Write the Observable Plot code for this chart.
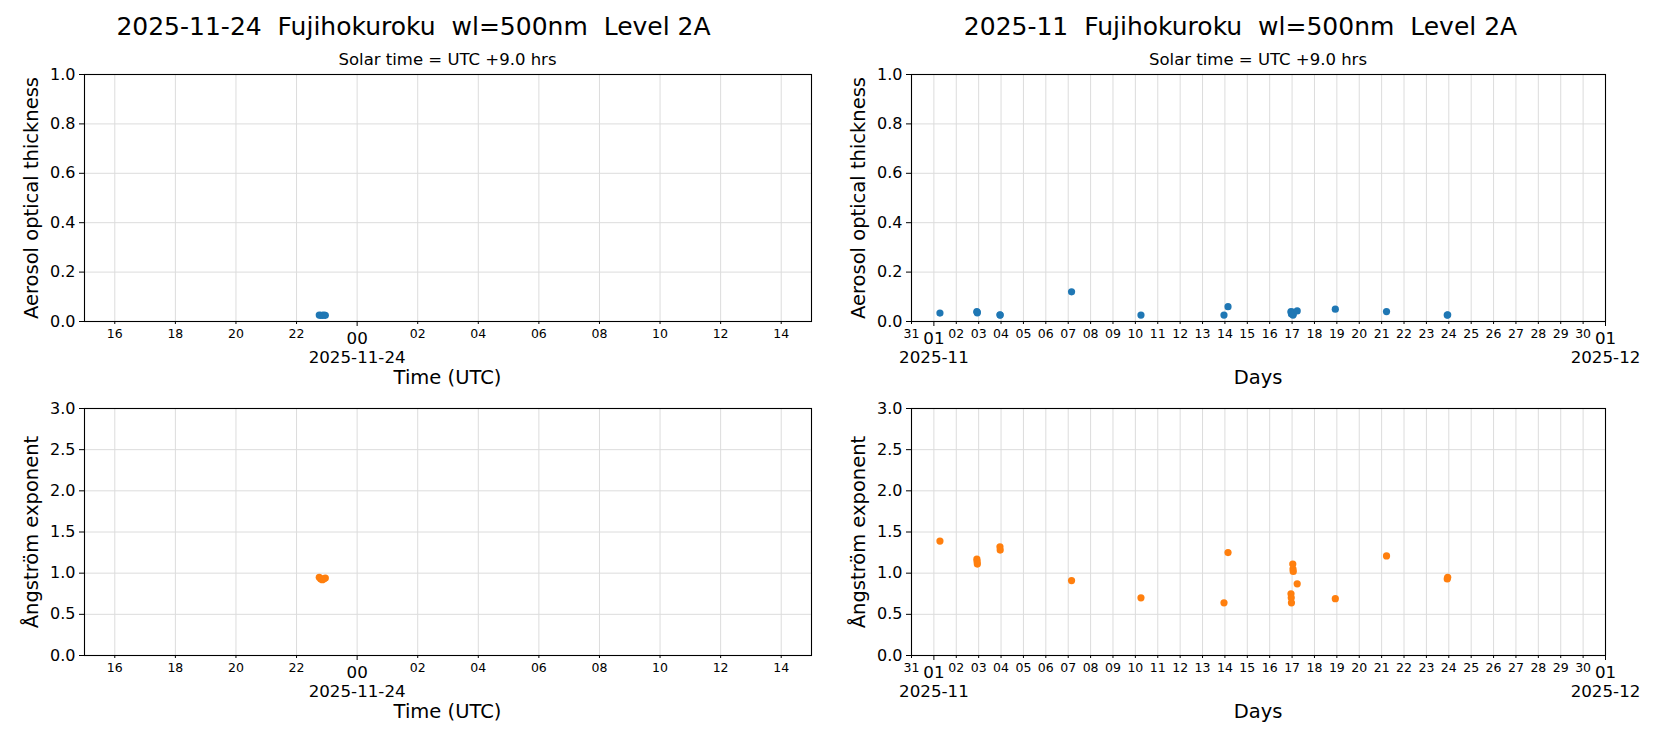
<!DOCTYPE html>
<html>
<head>
<meta charset="utf-8">
<script src="https://cdn.jsdelivr.net/npm/d3@7"></script>
<script src="https://cdn.jsdelivr.net/npm/@observablehq/plot@0.6"></script>
<style>
  html, body { margin: 0; padding: 0; background: #fff; }
  #fig { position: relative; width: 1654px; height: 737px; font-family: "DejaVu Sans", sans-serif; color: #000; overflow: hidden; }
  .abs { position: absolute; white-space: pre; line-height: 1; }
  .cx { transform: translate(-50%, -50%); }
  .rot { transform: translate(-50%, -50%) rotate(-90deg); }
  .panel { position: absolute; }
</style>
</head>
<body>
<div id="fig"></div>
<script>
// ---------------- data ----------------
const dayTitle = "2025-11-24  Fujihokuroku  wl=500nm  Level 2A";
const monthTitle = "2025-11  Fujihokuroku  wl=500nm  Level 2A";
const subTitle = "Solar time = UTC +9.0 hrs";

// daily panel (UTC)
const dayTimes = ["2025-11-23T22:45Z", "2025-11-23T22:48Z", "2025-11-23T22:51Z", "2025-11-23T22:54Z", "2025-11-23T22:57Z"];
const dayAOT = [0.026, 0.025, 0.025, 0.026, 0.025];
const dayAE = [0.95, 0.93, 0.92, 0.93, 0.94];

// monthly panel (UTC)
const monthTimes = [
  "2025-11-01T06:30Z", "2025-11-02T22:05Z", "2025-11-02T22:20Z", "2025-11-02T22:35Z",
  "2025-11-03T22:50Z", "2025-11-03T23:05Z", "2025-11-07T03:35Z", "2025-11-10T06:00Z",
  "2025-11-13T23:00Z", "2025-11-14T03:20Z", "2025-11-16T22:50Z", "2025-11-16T23:05Z",
  "2025-11-16T23:20Z", "2025-11-17T00:45Z", "2025-11-17T01:00Z", "2025-11-17T01:15Z",
  "2025-11-17T05:30Z", "2025-11-18T22:20Z", "2025-11-21T05:15Z", "2025-11-23T22:20Z",
  "2025-11-23T22:50Z"
];
const monthAOT = [0.034, 0.040, 0.037, 0.035, 0.027, 0.026, 0.120, 0.026, 0.026, 0.060, 0.040, 0.036,
  0.030, 0.038, 0.026, 0.030, 0.043, 0.050, 0.040, 0.026, 0.027];
const monthAE = [1.39, 1.17, 1.14, 1.11, 1.32, 1.28, 0.91, 0.70, 0.64, 1.25, 0.75, 0.70,
  0.64, 1.11, 1.05, 1.02, 0.87, 0.69, 1.21, 0.93, 0.95];

// axes / ticks
const dayDomain = ["2025-11-23T15:00Z", "2025-11-24T15:00Z"];
const dayMinorTicks = ["2025-11-23T16:00Z", "2025-11-23T18:00Z", "2025-11-23T20:00Z", "2025-11-23T22:00Z",
  "2025-11-24T02:00Z", "2025-11-24T04:00Z", "2025-11-24T06:00Z", "2025-11-24T08:00Z",
  "2025-11-24T10:00Z", "2025-11-24T12:00Z", "2025-11-24T14:00Z"];
const dayMajorTicks = ["2025-11-24T00:00Z"];
const dayMajorLabels = ["2025-11-24"];

const monthDomain = ["2025-10-31T00:00Z", "2025-12-01T00:00Z"];
const monthMinorTicks = ["2025-10-31", "2025-11-02", "2025-11-03", "2025-11-04", "2025-11-05", "2025-11-06",
  "2025-11-07", "2025-11-08", "2025-11-09", "2025-11-10", "2025-11-11", "2025-11-12", "2025-11-13",
  "2025-11-14", "2025-11-15", "2025-11-16", "2025-11-17", "2025-11-18", "2025-11-19", "2025-11-20",
  "2025-11-21", "2025-11-22", "2025-11-23", "2025-11-24", "2025-11-25", "2025-11-26", "2025-11-27",
  "2025-11-28", "2025-11-29", "2025-11-30"];
const monthMajorTicks = ["2025-11-01", "2025-12-01"];
const monthMajorLabels = ["2025-11", "2025-12"];

const aotTicks = [0, 0.2, 0.4, 0.6, 0.8, 1.0];
const aeTicks = [0, 0.5, 1.0, 1.5, 2.0, 2.5, 3.0];

const aotLabel = "Aerosol optical thickness";
const aeLabel = "Ångström exponent";
const dayXLabel = "Time (UTC)";
const monthXLabel = "Days";

const blue = "#1f77b4";
const orange = "#ff7f0e";

// ---------------- drawing ----------------
const toDate = s => new Date(s.length === 10 ? s + "T00:00Z" : s);
const fig = document.getElementById("fig");

function addText(txt, x, y, size, cls) {
  const d = document.createElement("div");
  d.className = "abs " + cls;
  d.style.left = x + "px";
  d.style.top = y + "px";
  d.style.fontSize = size + "px";
  d.textContent = txt;
  fig.appendChild(d);
}

function panel({left, top, marginLeft, marginRight, times, values, color, domain, yTicks, minor, major, majorLabels, hourly}) {
  const data = times.map((t, i) => ({t: toDate(t), v: values[i]}));
  const minorD = minor.map(toDate);
  const majorD = major.map(toDate);
  const allTicks = minorD.concat(majorD);
  const fmt = hourly ? d3.utcFormat("%H") : d3.utcFormat("%d");
  const width = 827, height = 341;
  const svg = Plot.plot({
    width, height,
    marginLeft, marginRight, marginTop: 14, marginBottom: height - 14 - 247,
    style: {fontFamily: "DejaVu Sans, sans-serif", color: "#000", background: "transparent", overflow: "visible"},
    x: {type: "utc", domain: domain.map(toDate)},
    y: {domain: [yTicks[0], yTicks[yTicks.length - 1]]},
    marks: [
      Plot.gridX(allTicks, {stroke: "#dcdcdc", strokeOpacity: 1, strokeWidth: 1}),
      Plot.gridY(yTicks, {stroke: "#dcdcdc", strokeOpacity: 1, strokeWidth: 1}),
      Plot.axisY(yTicks, {tickFormat: d3.format(".1f"), fontSize: 16, tickSize: 5, tickPadding: 4, label: null}),
      Plot.axisX(minorD, {tickFormat: fmt, fontSize: 12.5, tickSize: 3, tickPadding: 5, label: null}),
      Plot.axisX(majorD, {tickFormat: fmt, fontSize: 16.7, tickSize: 5, tickPadding: 6, label: null}),
      Plot.text(majorD, {x: d => d, frameAnchor: "bottom", dy: 36, text: (d, i) => majorLabels[i], fontSize: 16.7, lineAnchor: "middle"}),
      Plot.frame({stroke: "#000", strokeWidth: 1.1}),
      Plot.dot(data, {x: "t", y: "v", r: 3.6, fill: color, stroke: "none"})
    ]
  });
  svg.classList.add("panel");
  svg.style.left = left + "px";
  svg.style.top = top + "px";
  fig.appendChild(svg);
}

// titles
addText(dayTitle, 413.5, 26, 25, "cx");
addText(monthTitle, 1240.5, 26, 25, "cx");
addText(subTitle, 447.5, 60, 16.5, "cx");
addText(subTitle, 1258, 60, 16.5, "cx");

// panels
panel({left: 0, top: 60, marginLeft: 84, marginRight: 16, times: dayTimes, values: dayAOT, color: blue, hourly: true,
  domain: dayDomain, yTicks: aotTicks, minor: dayMinorTicks, major: dayMajorTicks, majorLabels: dayMajorLabels});
panel({left: 827, top: 60, marginLeft: 84, marginRight: 49, times: monthTimes, values: monthAOT, color: blue, hourly: false,
  domain: monthDomain, yTicks: aotTicks, minor: monthMinorTicks, major: monthMajorTicks, majorLabels: monthMajorLabels});
panel({left: 0, top: 394, marginLeft: 84, marginRight: 16, times: dayTimes, values: dayAE, color: orange, hourly: true,
  domain: dayDomain, yTicks: aeTicks, minor: dayMinorTicks, major: dayMajorTicks, majorLabels: dayMajorLabels});
panel({left: 827, top: 394, marginLeft: 84, marginRight: 49, times: monthTimes, values: monthAE, color: orange, hourly: false,
  domain: monthDomain, yTicks: aeTicks, minor: monthMinorTicks, major: monthMajorTicks, majorLabels: monthMajorLabels});

// axis labels
addText(aotLabel, 32, 197.5, 19.5, "rot");
addText(aotLabel, 859, 197.5, 19.5, "rot");
addText(aeLabel, 32, 531.5, 19.5, "rot");
addText(aeLabel, 859, 531.5, 19.5, "rot");
addText(dayXLabel, 447.5, 378, 19.5, "cx");
addText(monthXLabel, 1258, 378, 19.5, "cx");
addText(dayXLabel, 447.5, 712, 19.5, "cx");
addText(monthXLabel, 1258, 712, 19.5, "cx");
</script>
</body>
</html>
